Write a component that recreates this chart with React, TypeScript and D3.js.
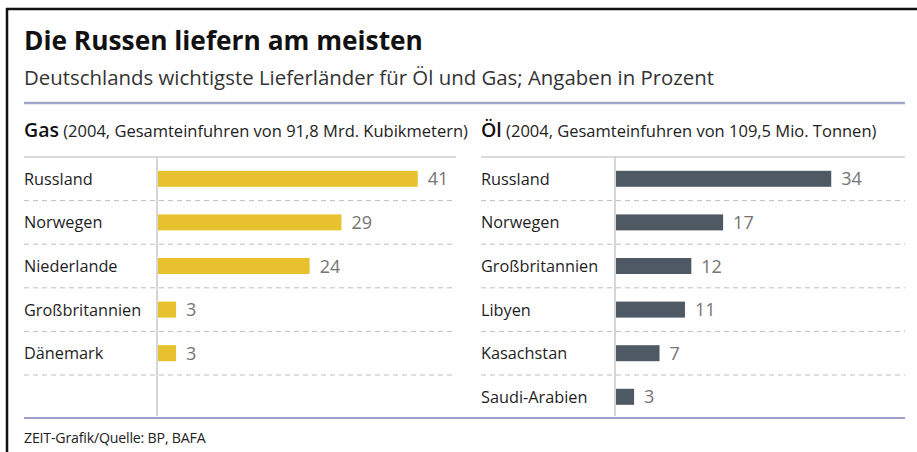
import React from "react";
import * as d3 from "d3";

const gasCountries = ["Russland", "Norwegen", "Niederlande", "Großbritannien", "Dänemark"];
const gasValues = [41, 29, 24, 3, 3];
const oilCountries = ["Russland", "Norwegen", "Großbritannien", "Libyen", "Kasachstan", "Saudi-Arabien"];
const oilValues = [34, 17, 12, 11, 7, 3];

const title = "Die Russen liefern am meisten";
const subtitle = "Deutschlands wichtigste Lieferländer für Öl und Gas; Angaben in Prozent";
const gasHead = "Gas";
const gasNote = " (2004, Gesamteinfuhren von 91,8 Mrd. Kubikmetern)";
const oilHead = "Öl";
const oilNote = " (2004, Gesamteinfuhren von 109,5 Mio. Tonnen)";
const footer = "ZEIT-Grafik/Quelle: BP, BAFA";

const FONT = "'Open Sans', 'Noto Sans', sans-serif";
const W = 917;
const H = 452;
const rowsN = 6;
const top = 157;
const rowH = 43.6;

function Panel({ x0, x1, axisX, countries, values, color, head, note }: any) {
  const x = d3.scaleLinear().domain([0, 10]).range([axisX, axisX + 63.6]);
  const y = d3.scaleBand<number>().domain(d3.range(rowsN)).range([top, top + rowH * rowsN]).padding(0);
  return (
    <g>
      <text x={x0} y={137} fontFamily={FONT} fill="#111">
        <tspan fontSize={19.5} fontWeight={600}>{head}</tspan>
        <tspan fontSize={16.5} fill="#222">{note}</tspan>
      </text>
      <line x1={x0} x2={x1} y1={top} y2={top} stroke="#cfcfcf" strokeWidth={1.5} />
      {d3.range(1, rowsN).map((i) => (
        <line key={i} x1={x0} x2={x1} y1={y(i)!} y2={y(i)!} stroke="#bdbdbd" strokeWidth={1} strokeDasharray="5 4" />
      ))}
      <line x1={axisX} x2={axisX} y1={top} y2={416} stroke="#c8c8c8" strokeWidth={1.5} />
      {countries.map((c: string, i: number) => {
        const cy = y(i)! + rowH / 2;
        return (
          <g key={c}>
            <text x={x0} y={cy + 6} fontFamily={FONT} fontSize={16.3} fill="#1e1e1e">{c}</text>
            <rect x={x(0) + 1} y={cy - 8} width={x(values[i]) - x(0) - 1} height={16} fill={color} />
            <text x={x(values[i]) + 10} y={cy + 6.5} fontFamily={FONT} fontSize={18} fontWeight={500} fill="#747474">{values[i]}</text>
          </g>
        );
      })}
    </g>
  );
}

export default function App() {
  return (
    <svg width={W} height={H} style={{ position: "absolute", left: 0, top: 0, background: "#fff" }}>
      <rect x={0} y={0} width={W} height={H} fill="#fff" />
      <line x1={6} x2={W} y1={9} y2={9} stroke="#111" strokeWidth={2.5} />
      <line x1={7} x2={7} y1={8} y2={H} stroke="#111" strokeWidth={2.5} />
      <text x={24} y={50} fontFamily={FONT} fontWeight={700} fontSize={26.3} fill="#111">{title}</text>
      <text x={24} y={85} fontFamily={FONT} fontSize={20.4} fill="#333">{subtitle}</text>
      <line x1={24} x2={905} y1={103} y2={103} stroke="#a3a6cc" strokeWidth={2.5} />
      <Panel x0={24} x1={456} axisX={157} countries={gasCountries} values={gasValues} color="#e8c22e" head={gasHead} note={gasNote} />
      <Panel x0={481} x1={905} axisX={615} countries={oilCountries} values={oilValues} color="#4e5963" head={oilHead} note={oilNote} />
      <line x1={24} x2={905} y1={418} y2={418} stroke="#9da0c8" strokeWidth={2} />
      <text x={24} y={443} fontFamily={FONT} fontSize={14.2} fill="#222" letterSpacing={-0.2}>{footer}</text>
    </svg>
  );
}
